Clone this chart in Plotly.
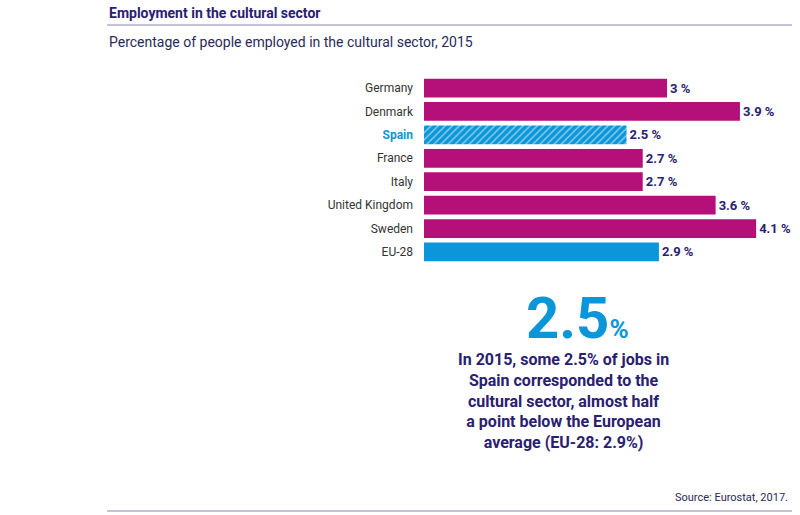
import plotly.graph_objects as go

countries = ["Germany", "Denmark", "Spain", "France", "Italy", "United Kingdom", "Sweden", "EU-28"]
values = [3, 3.9, 2.5, 2.7, 2.7, 3.6, 4.1, 2.9]
labels = ["3 %", "3.9 %", "2.5 %", "2.7 %", "2.7 %", "3.6 %", "4.1 %", "2.9 %"]

MAG = "#b5107a"; BLUE = "#0a96d8"; NAVY = "#2a2070"
colors = [BLUE if c in ("Spain", "EU-28") else MAG for c in countries]
patterns = ["/" if c == "Spain" else "" for c in countries]
ticktext = [f"<b><span style='color:{BLUE}'>{c}</span></b>" if c == "Spain" else c for c in countries]

fig = go.Figure(go.Bar(
    x=values, y=countries, orientation="h", width=0.8,
    marker=dict(color=colors, line=dict(width=0),
                pattern=dict(shape=patterns, fgcolor="#0670a8", size=5, solidity=0.3)),
    text=[f"<b>{l}</b>" for l in labels], textposition="outside",
    textfont=dict(color=NAVY, size=13, family="Roboto"), cliponaxis=False))

fig.update_layout(
    width=800, height=515, margin=dict(l=0, r=0, t=0, b=0),
    paper_bgcolor="white", plot_bgcolor="white", showlegend=False,
    font=dict(family="Roboto", color="#333"),
    xaxis=dict(domain=[0.53, 0.9958], range=[0, 4.6], visible=False),
    yaxis=dict(domain=[0.488, 0.8518], autorange="reversed", tickmode="array",
               tickvals=countries, ticktext=ticktext, ticks="", ticklabelstandoff=10,
               tickfont=dict(size=12, color="#333"), showgrid=False),
)
fig.add_annotation(x=107/800, y=1-13/515, xref="paper", yref="paper", xanchor="left", yanchor="middle",
                   text="<b>Employment in the cultural sector</b>", showarrow=False,
                   font=dict(size=14, color=NAVY, family="Roboto"))
fig.add_shape(type="line", xref="paper", yref="paper", x0=107/800, x1=792/800, y0=1-25/515, y1=1-25/515,
              line=dict(color="#8a86b0", width=1))
fig.add_annotation(x=107/800, y=1-42/515, xref="paper", yref="paper", xanchor="left", yanchor="middle",
                   text="Percentage of people employed in the cultural sector, 2015", showarrow=False,
                   font=dict(size=14, color="#2a2a5a", family="Roboto"))
fig.add_annotation(x=577/800, y=1-318/515, xref="paper", yref="paper", xanchor="center", yanchor="middle",
                   text=f"<b>2.5</b><b><span style='font-size:26px'>%</span></b>", showarrow=False,
                   font=dict(size=58, color=BLUE, family="Roboto"))
fig.add_annotation(x=563/800, y=1-401/515, xref="paper", yref="paper", xanchor="center", yanchor="middle",
                   text="<b>In 2015, some 2.5% of jobs in<br>Spain corresponded to the<br>cultural sector, almost half<br>a point below the European<br>average (EU-28: 2.9%)</b>",
                   showarrow=False, align="center", font=dict(size=16, color=NAVY, family="Roboto"))
fig.add_annotation(x=790/800, y=1-497/515, xref="paper", yref="paper", xanchor="right", yanchor="middle",
                   text="Source: Eurostat, 2017.", showarrow=False, font=dict(size=11, color="#2a2a5a"))
fig.add_shape(type="line", xref="paper", yref="paper", x0=107/800, x1=792/800, y0=1-511/515, y1=1-511/515,
              line=dict(color="#8a86b0", width=1))
fig.write_html("out.html", config={"displayModeBar": False},
               post_script="document.body.style.margin='0';")
